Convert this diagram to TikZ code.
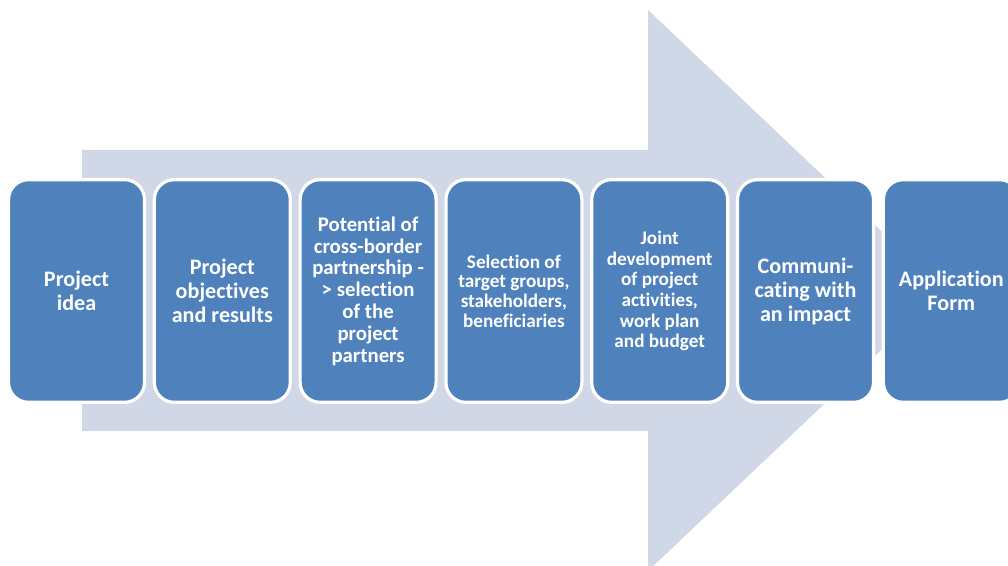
\documentclass[tikz,border=0pt]{standalone}
\usepackage{fontspec}
\setmainfont{Carlito}[Ligatures={NoCommon}]
\definecolor{arrowfill}{HTML}{D0D8E8}
\definecolor{boxfill}{HTML}{4F81BD}
\tikzset{
  stepbox/.style={draw=white, line width=2.4pt, fill=boxfill, rounded corners=15pt,
    minimum width=102pt, minimum height=167pt, inner sep=0pt,
    text=white, align=center, font=\bfseries},
  big/.style={font=\bfseries\fontsize{16.6}{18}\selectfont},
  mid/.style={font=\bfseries\fontsize{15.6}{16.35}\selectfont},
  small/.style={font=\bfseries\fontsize{14.4}{14.8}\selectfont},
  smallb/.style={font=\bfseries\fontsize{14.4}{15.45}\selectfont}
}
\begin{document}
\begin{tikzpicture}[x=0.75pt,y=-0.75pt]
\useasboundingbox (0,0) rectangle (1008,566);
\clip (0,0) rectangle (1008,566);
\fill[arrowfill] (82,150) -- (648,150) -- (648,10) -- (944,290.5) -- (648,571) -- (648,431) -- (82,431) -- cycle;
\node[stepbox,big] (b1) at (76.5,291) {Project\\idea};
\node[stepbox,big] (b2) at (222.3,291) {Project\\objectives\\and results};
\node[stepbox,mid] (b3) at (368.1,291) {Potential of\\cross-border\\partnership -\\> selection\\of the\\project\\partners};
\node[stepbox,small] (b4) at (513.9,291) {Selection of\\target groups,\\stakeholders,\\beneficiaries};
\node[stepbox,smallb] (b5) at (659.7,291) {Joint\\development\\of project\\activities,\\work plan\\and budget};
\node[stepbox,big] (b6) at (805.5,291) {Communi-\\cating with\\an impact};
\node[stepbox,big] (b7) at (951.3,291) {Application\\Form};
\end{tikzpicture}
\end{document}
